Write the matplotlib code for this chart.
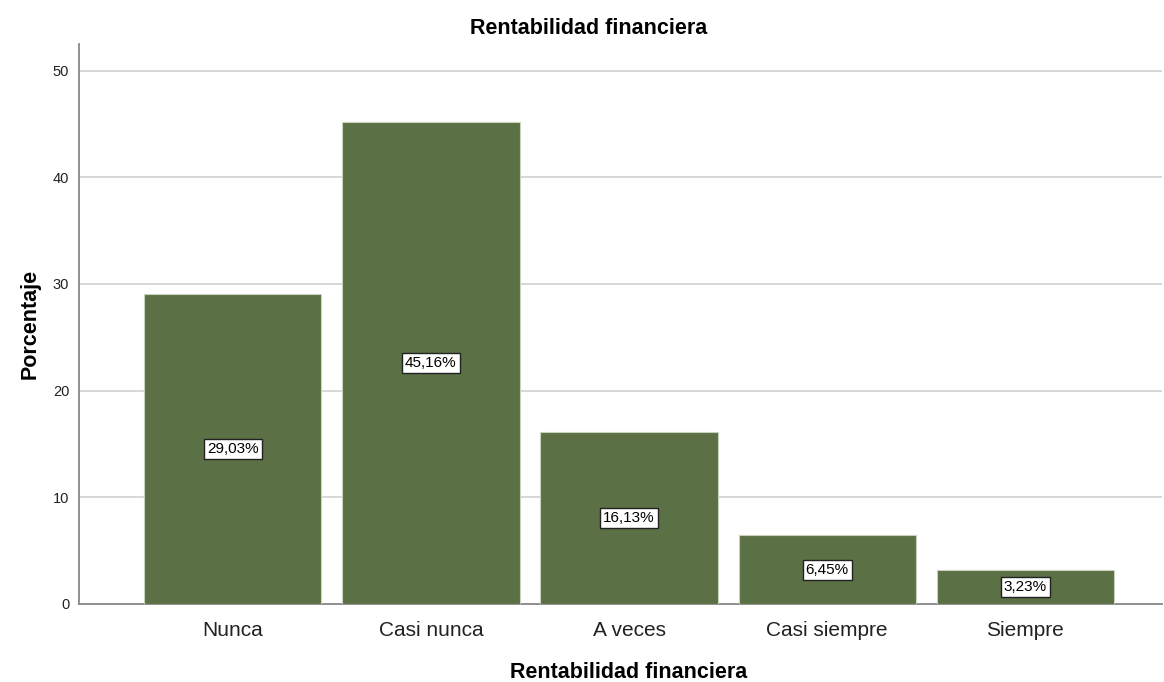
import matplotlib
matplotlib.use("Agg")
import matplotlib.pyplot as plt
import numpy as np

categorias = ["Nunca", "Casi nunca", "A veces", "Casi siempre", "Siempre"]
porcentajes = [29.03, 45.16, 16.13, 6.45, 3.23]
etiquetas = ["29,03%", "45,16%", "16,13%", "6,45%", "3,23%"]

plt.rcParams["font.family"] = ["Liberation Sans", "DejaVu Sans"]

fig = plt.figure(figsize=(11.64, 6.82), dpi=100)
ax = fig.add_axes([0.0679, 0.1144, 0.9305, 0.8211])

x = np.arange(len(categorias))
bars = ax.bar(x, porcentajes, width=0.895, color="#5b7045",
              edgecolor="#c9d2bf", linewidth=0.8, zorder=3)

for b, txt in zip(bars, etiquetas):
    ax.text(b.get_x() + b.get_width() / 2, b.get_height() / 2, txt,
            ha="center", va="center", fontsize=11, zorder=4,
            bbox=dict(boxstyle="square,pad=0.2", fc="white", ec="#222222", lw=1.0))

ax.set_xlim(-0.775, 4.69)
ax.set_ylim(0, 52.5)
ax.set_yticks([0, 10, 20, 30, 40, 50])
ax.set_xticks(x)
ax.set_xticklabels(categorias, fontsize=15, color="#222222")
ax.tick_params(axis="y", labelsize=10.5, length=0, pad=7, colors="#222222")
ax.tick_params(axis="x", length=0, pad=12)
ax.yaxis.grid(True, color="#d4d4d4", linewidth=1.3, zorder=0)
ax.set_axisbelow(True)

for s in ["top", "right"]:
    ax.spines[s].set_visible(False)
ax.spines["left"].set_color("#888888")
ax.spines["bottom"].set_color("#888888")
ax.spines["left"].set_linewidth(1.3)
ax.spines["bottom"].set_linewidth(1.3)

fig.text(0.506, 1 - 29 / 682, "Rentabilidad financiera", fontsize=15.5,
         fontweight="bold", ha="center", va="center")
fig.text(629 / 1164, 1 - 672 / 682, "Rentabilidad financiera", fontsize=15.5,
         fontweight="bold", ha="center", va="center")
ax.set_ylabel("Porcentaje", fontsize=15.5, fontweight="bold", labelpad=9)

plt.savefig("out.png")
